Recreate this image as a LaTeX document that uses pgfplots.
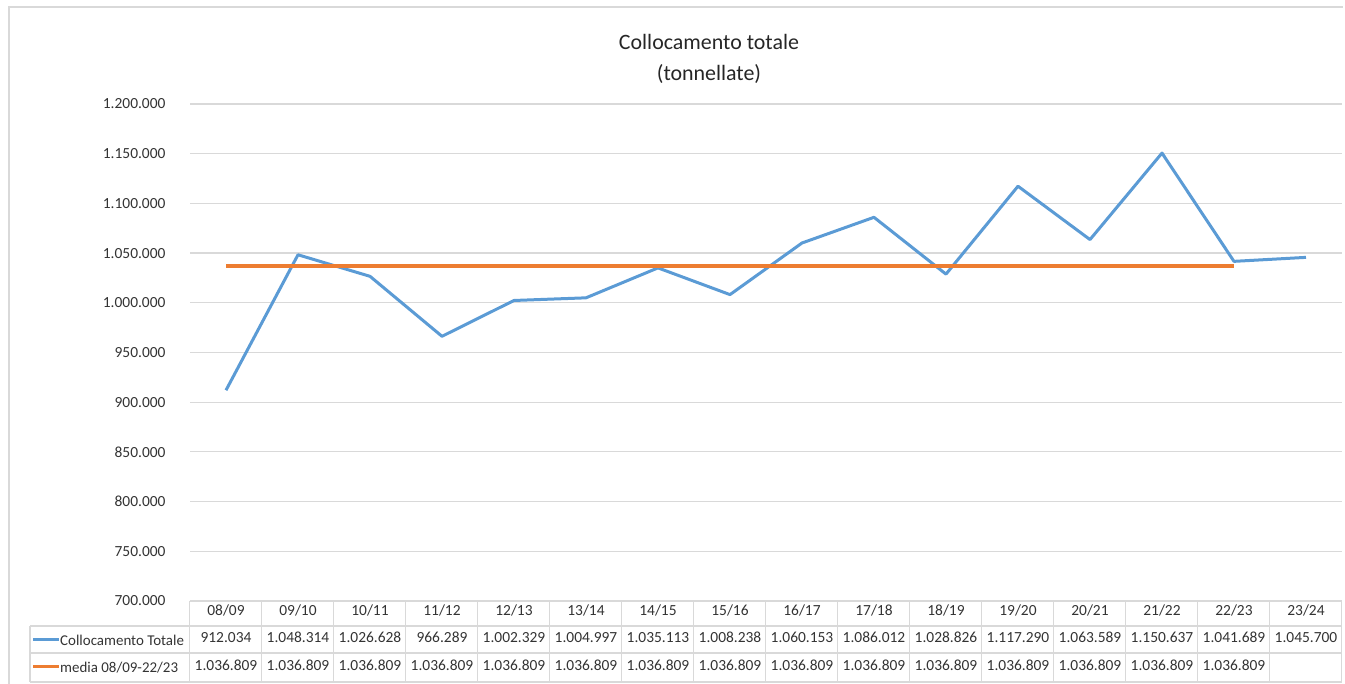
\documentclass[border=0pt]{standalone}
\usepackage{fontspec}
\setmainfont{Carlito}
\usepackage{pgfplots}
\pgfplotsset{compat=1.18}
\definecolor{serieblu}{HTML}{5B9BD5}
\definecolor{mediaor}{HTML}{ED7D31}
\definecolor{griglia}{HTML}{D9D9D9}
\definecolor{testo}{HTML}{333333}
% pixel coordinates of the reference (y measured from the top)
\newcommand{\px}[2]{({#1*1bp},{(684-#2)*1bp})}

\begin{document}
\begin{tikzpicture}
\path[use as bounding box] (0,0) rectangle (1345bp,684bp);
\draw[griglia, line width=1.2bp] \px{9}{684} -- \px{9}{7} -- \px{1343}{7};

\begin{axis}[
  at={(190bp,83bp)}, anchor=south west,
  width=1152bp, height=497bp, scale only axis,
  xmin=-0.5, xmax=15.5,
  ymin=700000, ymax=1200000,
  ytick={700000,750000,...,1200000},
  scaled y ticks=false,
  xtick={0,...,15},
  xticklabels={
    {08/09\\912.034\\1.036.809},
    {09/10\\1.048.314\\1.036.809},
    {10/11\\1.026.628\\1.036.809},
    {11/12\\966.289\\1.036.809},
    {12/13\\1.002.329\\1.036.809},
    {13/14\\1.004.997\\1.036.809},
    {14/15\\1.035.113\\1.036.809},
    {15/16\\1.008.238\\1.036.809},
    {16/17\\1.060.153\\1.036.809},
    {17/18\\1.086.012\\1.036.809},
    {18/19\\1.028.826\\1.036.809},
    {19/20\\1.117.290\\1.036.809},
    {20/21\\1.063.589\\1.036.809},
    {21/22\\1.150.637\\1.036.809},
    {22/23\\1.041.689\\1.036.809},
    {23/24\\1.045.700\\\mbox{}}},
  xticklabel style={anchor=north, align=center,
    font=\fontsize{15.5}{27.5}\selectfont, text=testo},
  yticklabel style={anchor=east, xshift=-21bp,
    font=\fontsize{15.5}{18}\selectfont, text=testo},
  /pgf/number format/.cd, fixed, 1000 sep={.}, assume math mode=true,
  /pgfplots/.cd,
  axis line style={draw=none},
  tick style={draw=none},
  ymajorgrids,
  grid style={griglia, line width=1.2bp},
]
\addplot[serieblu, line width=3bp, line join=round, mark=none] coordinates {
  (0,912034) (1,1048314) (2,1026628) (3,966289) (4,1002329)
  (5,1004997) (6,1035113) (7,1008238) (8,1060153) (9,1086012)
  (10,1028826) (11,1117290) (12,1063589) (13,1150637) (14,1041689)
  (15,1045700)
};
\addplot[mediaor, line width=3.5bp, mark=none] coordinates {
  (0,1036809) (1,1036809) (2,1036809) (3,1036809) (4,1036809)
  (5,1036809) (6,1036809) (7,1036809) (8,1036809) (9,1036809)
  (10,1036809) (11,1036809) (12,1036809) (13,1036809) (14,1036809)
};
\end{axis}

% data table grid
\foreach \k in {0,...,16}{
  \draw[griglia, line width=1.2bp] \px{190+72*\k}{601} -- \px{190+72*\k}{682};
}
\foreach \r in {626,653,682}{
  \draw[griglia, line width=1.2bp] \px{30}{\r} -- \px{1342}{\r};
}
\draw[griglia, line width=1.2bp] \px{30}{626} -- \px{30}{682};

% row labels
\draw[serieblu, line width=3bp] \px{33}{640} -- \px{59}{640};
\node[anchor=base west, inner sep=0pt, font=\fontsize{15}{18}\selectfont, text=testo]
  at \px{60}{645} {Collocamento Totale};
\draw[mediaor, line width=3bp] \px{33}{667} -- \px{59}{667};
\node[anchor=base west, inner sep=0pt, font=\fontsize{15}{18}\selectfont, text=testo]
  at \px{60}{672} {media 08/09-22/23};

% title
\node[anchor=base, font=\fontsize{22}{26}\selectfont, text=black!85]
  at \px{709}{50} {Collocamento totale};
\node[anchor=base, font=\fontsize{22}{26}\selectfont, text=black!85]
  at \px{709}{81} {(tonnellate)};
\end{tikzpicture}
\end{document}
